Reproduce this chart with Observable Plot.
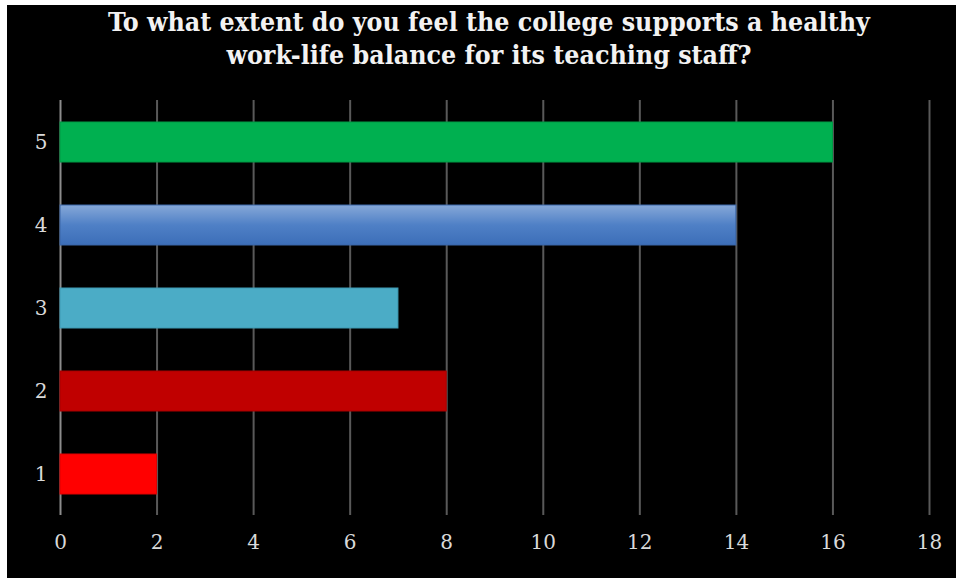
<!DOCTYPE html>
<html>
<head>
<meta charset="utf-8">
<script src="https://cdn.jsdelivr.net/npm/d3@7"></script>
<script src="https://cdn.jsdelivr.net/npm/@observablehq/plot@0.6"></script>
<style>
  html, body { margin: 0; padding: 0; background: #ffffff; }
  #frame { position: absolute; left: 7px; top: 5px; width: 949px; height: 573px; background: #000000; overflow: hidden; }
  #title { height: 85px; box-sizing: border-box; padding: 0 0 0 15px; text-align: center; color: #f2f2f2;
           font-family: "DejaVu Serif", serif; font-stretch: condensed; font-weight: bold; font-size: 26.5px; line-height: 33px; }
  #chart svg { display: block; }
</style>
</head>
<body>
<div id="frame">
  <div id="title">To what extent do you feel the college supports a healthy<br>work-life balance for its teaching staff?</div>
  <div id="chart"></div>
</div>
<script>
const categories = ["1", "2", "3", "4", "5"];
const values = [2, 8, 7, 14, 16];
const barColors = ["#ff0000", "#c00000", "#4bacc6", "url(#blueGrad)", "#00b050"];
const barStrokes = ["#e00000", "#a80000", "#3f9ab3", "#3a66a8", "#009a45"];
const xTicks = [0, 2, 4, 6, 8, 10, 12, 14, 16, 18];

const data = categories.map((c, i) => ({cat: c, value: values[i], fill: barColors[i], stroke: barStrokes[i]}));

const chart = Plot.plot({
  width: 949,
  height: 488,
  marginTop: 10,
  marginBottom: 63,
  marginLeft: 53,
  marginRight: 27,
  style: {background: "#000000", color: "#d9d9d9", fontFamily: "DejaVu Serif, serif"},
  x: {domain: [0, 18], label: null},
  y: {domain: ["5", "4", "3", "2", "1"], paddingInner: 0.52, paddingOuter: 0.26, label: null},
  color: {type: "identity"},
  marks: [
    Plot.ruleX(xTicks.filter(t => t > 0), {stroke: "#595959", strokeWidth: 2}),
    Plot.ruleX([0], {stroke: "#8c8c8c", strokeWidth: 2}),
    Plot.barX(data, {x: "value", y: "cat", fill: "fill", stroke: "stroke", strokeWidth: 1}),
    Plot.axisX({ticks: xTicks, tickSize: 0, tickPadding: 19, fontSize: 20, fill: "#d9d9d9", label: null}),
    Plot.axisY({tickSize: 0, tickPadding: 13, fontSize: 20, fill: "#d9d9d9", label: null})
  ]
});

const svg = d3.select(chart);
const defs = svg.insert("defs", ":first-child");
const grad = defs.append("linearGradient").attr("id", "blueGrad").attr("x1", 0).attr("y1", 0).attr("x2", 0).attr("y2", 1);
grad.append("stop").attr("offset", "0%").attr("stop-color", "#86a8d8");
grad.append("stop").attr("offset", "50%").attr("stop-color", "#4f80c6");
grad.append("stop").attr("offset", "100%").attr("stop-color", "#3c6eb8");

document.getElementById("chart").appendChild(chart);
</script>
</body>
</html>
